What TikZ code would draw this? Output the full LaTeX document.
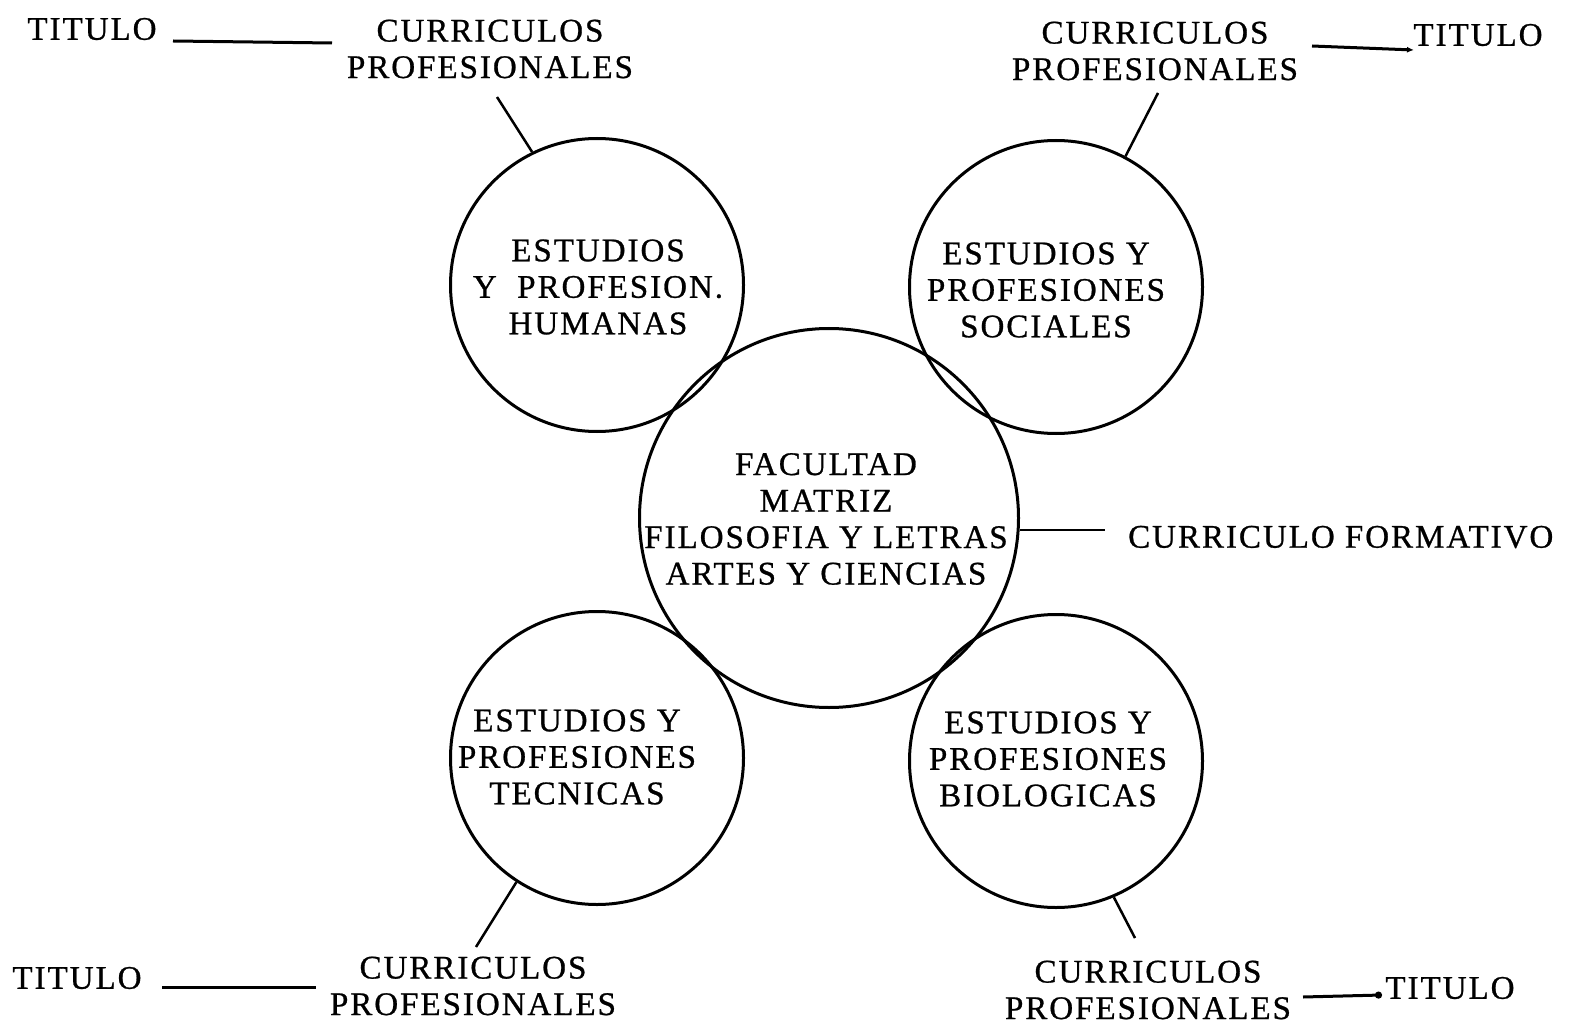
\documentclass[tikz,border=0pt]{standalone}
\usepackage{fontspec}
\setmainfont{Liberation Serif}[LetterSpace=6,FakeBold=0.8]
\usetikzlibrary{arrows.meta}
\begin{document}
\begin{tikzpicture}[x=1pt,y=-1pt,
  ring/.style={circle,draw,line width=3pt,inner sep=0pt},
  lbl/.style={font=\fontsize{33}{36.5}\selectfont,align=center,inner sep=0pt},
  conn/.style={line width=2.5pt},
  rule/.style={line width=3pt}]
\useasboundingbox (0,0) rectangle (1569,1024);
% circles
\node[ring,minimum size=379pt] (cc) at (829,518) {};
\node[ring,minimum size=293pt] (htl) at (597,285) {};
\node[ring,minimum size=293pt] (htr) at (1056,287) {};
\node[ring,minimum size=293pt] (hbl) at (597,758) {};
\node[ring,minimum size=293pt] (hbr) at (1056,761) {};
% circle texts
\node[lbl] (tcc) at (826,519) {FACULTAD\\MATRIZ\\FILOSOFIA Y LETRAS\\ARTES Y CIENCIAS};
\node[lbl] (ttl) at (598,287) {ESTUDIOS\\Y\ \ PROFESION.\\HUMANAS};
\node[lbl] (ttr) at (1046,290) {ESTUDIOS Y\\PROFESIONES\\SOCIALES};
\node[lbl] (tbl) at (577,757) {ESTUDIOS Y\\PROFESIONES\\TECNICAS};
\node[lbl] (tbr) at (1048,759) {ESTUDIOS Y\\PROFESIONES\\BIOLOGICAS};
% outer labels
\node[lbl] (ctl) at (490,49) {CURRICULOS\\PROFESIONALES};
\node[lbl] (ctr) at (1155,51) {CURRICULOS\\PROFESIONALES};
\node[lbl] (cbl) at (473,986) {CURRICULOS\\PROFESIONALES};
\node[lbl] (cbr) at (1148,990) {CURRICULOS\\PROFESIONALES};
\node[lbl] (ttitl) at (92,29) {TITULO};
\node[lbl] (ttitr) at (1478,35) {TITULO};
\node[lbl] (ttibl) at (77,978) {TITULO};
\node[lbl] (ttibr) at (1450,988) {TITULO};
\node[lbl,anchor=west] (cf) at (1128,537) {CURRICULO FORMATIVO};
% free ends
\coordinate (etl) at (497,97);
\coordinate (etr) at (1158,93);
\coordinate (ebl) at (476,947);
\coordinate (ebr) at (1135,938);
\coordinate (ecf) at (1105,530);
\coordinate (rtl1) at (173,41);  \coordinate (rtl2) at (332,43);
\coordinate (rtr1) at (1312,46); \coordinate (rtr2) at (1414,50);
\coordinate (rbl1) at (162,987); \coordinate (rbl2) at (316,987);
\coordinate (rbr1) at (1303,997); \coordinate (rbr2) at (1382,995);
% connectors
\draw[conn] (htl.116.6) -- (etl);
\draw[conn] (htr.62.4) -- (etr);
\draw[conn] (hbl.237.7) -- (ebl);
\draw[conn] (hbr.-67) -- (ebr);
\draw[conn] (ecf -| cc.east) -- (ecf);
% titulo rules
\draw[rule] (rtl1) -- (rtl2);
\draw[rule,-{Latex[length=7pt,width=6pt]}] (rtr1) -- (rtr2);
\draw[rule] (rbl1) -- (rbl2);
\draw[rule,-{Circle[length=7pt]}] (rbr1) -- (rbr2);
\end{tikzpicture}
\end{document}
